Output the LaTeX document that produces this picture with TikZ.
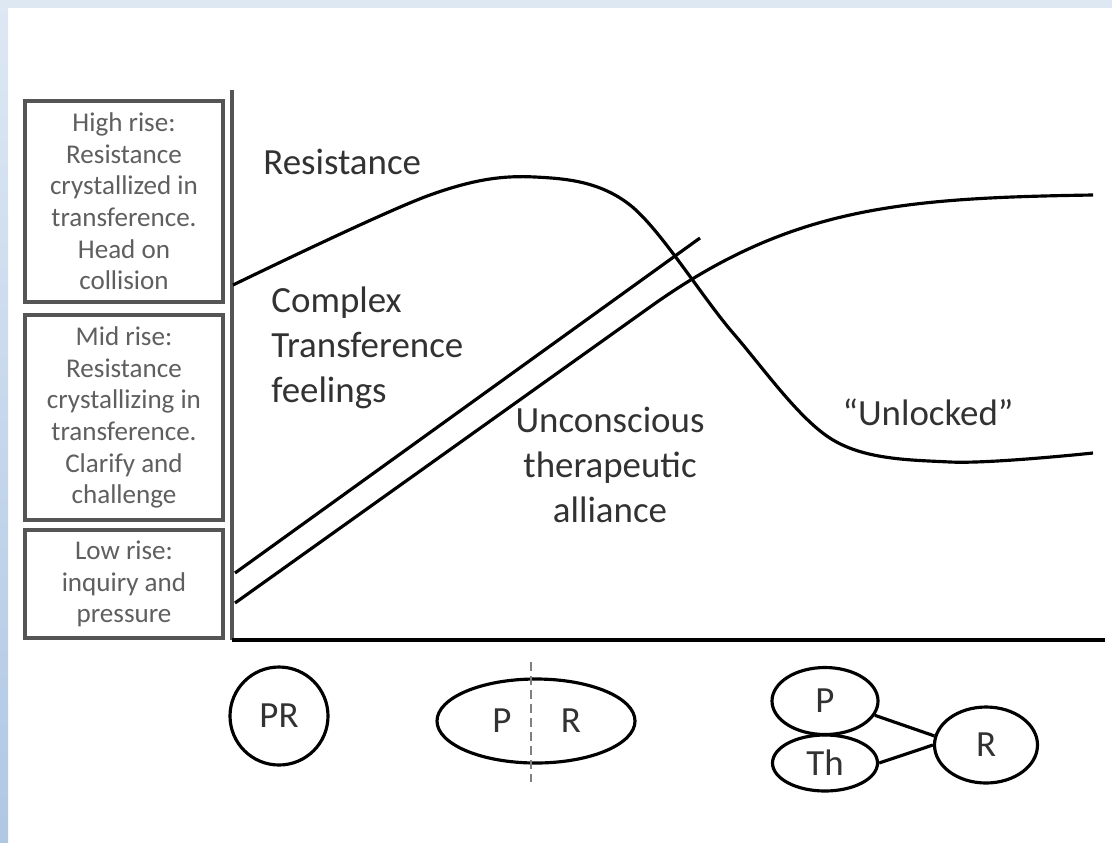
\documentclass[tikz,border=0pt]{standalone}
\usepackage{fontspec}
\setmainfont{Carlito}
\usetikzlibrary{shapes.geometric}

\definecolor{frameblue}{RGB}{222,232,243}
\definecolor{framedeep}{RGB}{176,199,228}
\definecolor{boxgray}{RGB}{85,85,85}
\definecolor{labelgray}{RGB}{50,50,50}
\definecolor{smallgray}{RGB}{95,95,95}

\tikzset{
  stagebox/.style={draw=boxgray, line width=1pt, minimum width=1.98cm, inner sep=0pt,
    align=center, text=smallgray, font=\fontsize{7.7}{9}\selectfont},
  curvelabel/.style={text=labelgray, font=\fontsize{10.5}{12.8}\selectfont},
  trendline/.style={line width=0.9pt},
  bubble/.style={draw, line width=0.9pt, inner sep=0pt, text=labelgray, font=\fontsize{10.5}{12}\selectfont},
}

\begin{document}
\begin{tikzpicture}
    % Fondo y marco
    \useasboundingbox (0,0) rectangle (11.12,8.42);
    \fill[white] (0,0) rectangle (11.12,8.42);
    \fill[frameblue] (0,8.34) rectangle (11.12,8.42);
    \shade[top color=frameblue, bottom color=framedeep] (0,0) rectangle (0.08,8.42);

    % Cajas de la izquierda
    \node[stagebox, minimum height=2.01cm] (hibox) at (1.24,6.405)
        {High rise:\\Resistance\\crystallized in\\transference.\\Head on\\collision};
    \node[stagebox, minimum height=2.05cm] (midbox) at (1.24,4.245)
        {Mid rise:\\Resistance\\crystallizing in\\transference.\\Clarify and\\challenge};
    \node[stagebox, minimum height=1.08cm] (lowbox) at (1.24,2.58)
        {Low rise:\\inquiry and\\pressure};

    % Ejes
    \coordinate (top) at (2.32,7.52);
    \coordinate (origin) at (2.32,2.02);
    \coordinate (right) at (11.05,2.02);
    \draw[line width=1.1pt, boxgray] (top) -- (origin);
    \draw[line width=1.3pt] (origin) -- (right);

    % Curvas
    \draw[trendline] plot[smooth, tension=0.55] coordinates
        {(2.33,5.57) (4.30,6.47) (5.35,6.65) (6.30,6.37) (7.33,5.09) (8.33,4.02) (9.50,3.80) (10.93,3.89)};
    \draw[trendline] (2.35,2.69) -- (7.00,6.04);
    \draw[trendline] (2.35,2.39) -- (6.50,5.35) .. controls (7.90,6.35) and (9.00,6.44) .. (10.93,6.47);

    % Etiquetas
    \node[curvelabel, anchor=west] (reslabel) at (2.51,6.80) {Resistance};
    \node[curvelabel, anchor=west, align=left] (tflabel) at (2.59,4.94)
        {Complex\\Transference\\feelings};
    \node[curvelabel, align=center] (allylabel) at (6.10,3.77)
        {Unconscious\\therapeutic\\alliance};
    \node[curvelabel] (unlocklabel) at (9.28,4.30) {“Unlocked”};

    % Figuras de abajo
    \node[bubble, circle, minimum size=0.98cm] (pr) at (2.79,1.26) {PR};

    \node[bubble, ellipse, minimum width=1.98cm, minimum height=0.84cm] (split) at (5.36,1.21) {};
    \node[bubble, draw=none] (splitp) at (5.02,1.21) {P};
    \node[bubble, draw=none] (splitr) at (5.71,1.21) {R};
    \coordinate (cuttop) at (5.31,1.80);
    \coordinate (cutbot) at (5.31,0.60);
    \draw[gray, line width=0.8pt, dash pattern=on 2.5pt off 1.5pt] (cuttop) -- (cutbot);

    \node[bubble, ellipse, minimum width=1.06cm, minimum height=0.67cm] (p) at (8.25,1.41) {P};
    \node[bubble, ellipse, minimum width=1.05cm, minimum height=0.56cm] (th) at (8.25,0.79) {Th};
    \node[bubble, ellipse, minimum width=1.03cm, minimum height=0.76cm] (r) at (9.86,0.97) {R};
    \draw[line width=0.9pt] (p.-16) -- (r.170);
    \draw[line width=0.9pt] (th.east) -- (r.west);
\end{tikzpicture}
\end{document}
